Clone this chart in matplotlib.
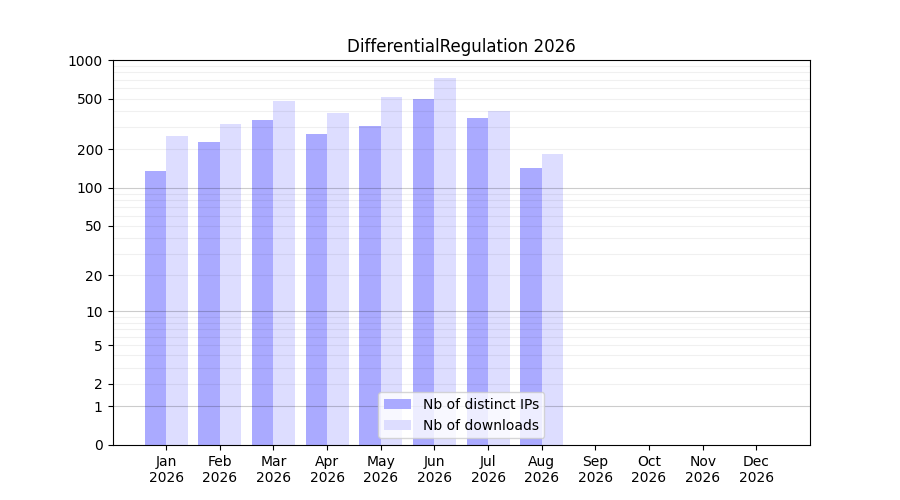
import numpy as np
import matplotlib
matplotlib.use('Agg')
import matplotlib.pyplot as plt
from matplotlib.ticker import FixedLocator

months = ['Jan', 'Feb', 'Mar', 'Apr', 'May', 'Jun', 'Jul', 'Aug', 'Sep', 'Oct', 'Nov', 'Dec']
year = '2026'
nb_ips = [136, 229, 340, 264, 305, 497, 353, 143]
nb_downloads = [255, 317, 479, 386, 515, 724, 400, 184]
y_ticks = [0, 1, 2, 5, 10, 20, 50, 100, 200, 500, 1000]


def forward(y):
    return np.log10(np.maximum(y, 0) + 1)


def inverse(y):
    return 10 ** y - 1


fig, ax = plt.subplots(figsize=(9, 5), dpi=100)
ax.set_yscale('function', functions=(forward, inverse))

x = np.arange(len(nb_ips))
ax.bar(x, nb_ips, width=-0.4, align='edge', color='#aaaaff', label='Nb of distinct IPs')
ax.bar(x, nb_downloads, width=0.4, align='edge', color='#ddddff', label='Nb of downloads')

ax.set_xlim(-1, 12)
ax.set_xticks(np.arange(len(months)))
ax.set_xticklabels([m + '\n' + year for m in months])

ax.set_ylim(0, 1000)
ax.yaxis.set_major_locator(FixedLocator(y_ticks))
ax.set_yticklabels([str(t) for t in y_ticks])
minor = [m * d for d in (1, 10, 100) for m in range(2, 10)]
ax.yaxis.set_minor_locator(FixedLocator(minor))
ax.tick_params(axis='y', which='minor', length=0)

for v in (1, 10, 100):
    ax.axhline(v, color='black', alpha=0.2, lw=0.8, zorder=3)
for v in minor:
    ax.axhline(v, color='black', alpha=0.06, lw=0.8, zorder=3)

ax.set_title('DifferentialRegulation ' + year)
ax.legend(loc='lower center')

plt.savefig('out.png')
